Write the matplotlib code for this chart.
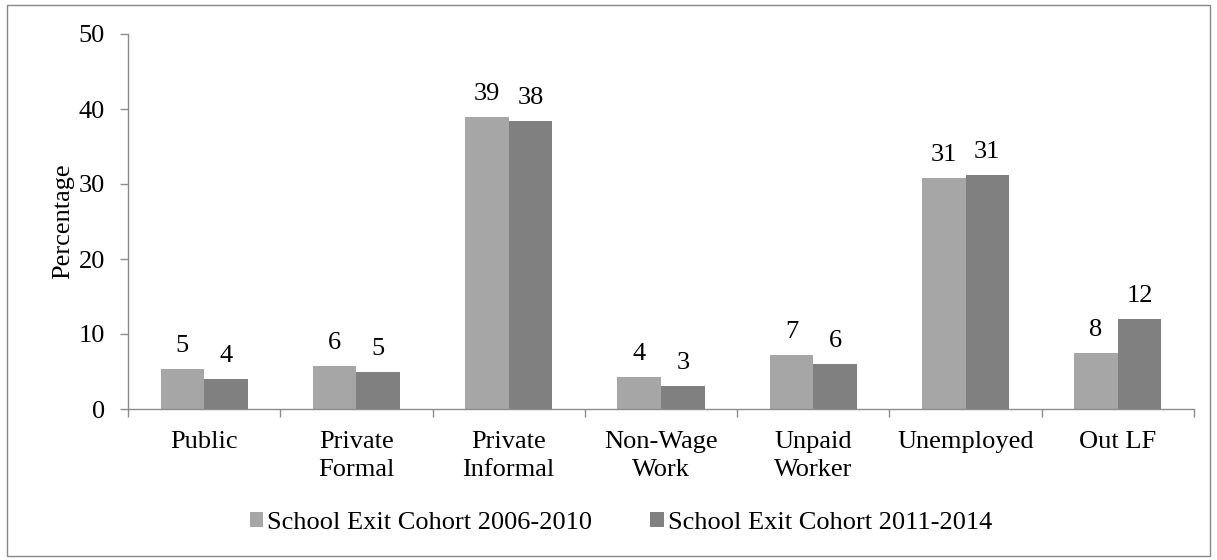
import numpy as np
import matplotlib.pyplot as plt
from matplotlib.patches import Patch, Rectangle

plt.rcParams['font.family'] = ['Liberation Serif', 'DejaVu Serif']
plt.rcParams['font.size'] = 19

categories = ['Public', 'Private\nFormal', 'Private\nInformal', 'Non-Wage\nWork',
              'Unpaid\nWorker', 'Unemployed', 'Out LF']
cohort_2006_2010 = [5.3, 5.7, 39.0, 4.3, 7.2, 30.8, 7.5]
cohort_2011_2014 = [4.0, 4.9, 38.4, 3.1, 6.0, 31.2, 12.0]
series_names = ['School Exit Cohort 2006-2010', 'School Exit Cohort 2011-2014']
colors = ['#a6a6a6', '#808080']

fig = plt.figure(figsize=(12.17, 5.6), dpi=100)
ax = fig.add_axes([128 / 1217, 1 - 409 / 560, 1066 / 1217, 375 / 560])

x = np.arange(len(categories))
w = 0.286
for k, vals in enumerate([cohort_2006_2010, cohort_2011_2014]):
    pos = x + (k - 0.5) * w
    ax.bar(pos, vals, width=w, color=colors[k], linewidth=0, zorder=2)
    for xi, v in zip(pos, vals):
        ax.annotate('%d' % round(v), (xi, v), xytext=(0, 12.2), textcoords='offset points',
                    ha='center', va='baseline', fontsize=19)

ax.set_xlim(-0.5, len(categories) - 0.5)
ax.set_ylim(0, 50)
ax.set_yticks(range(0, 51, 10))

# major ticks sit between categories, labels go on the minor ticks
ax.set_xticks(np.arange(-0.5, len(categories), 1.0))
ax.set_xticklabels([])
ax.set_xticks(x, minor=True)
ax.set_xticklabels(categories, minor=True, linespacing=1.35)
ax.tick_params(axis='x', which='minor', length=0, pad=16)
ax.tick_params(axis='x', which='major', length=7.7 * 0.72, width=1, color='#8c8c8c')
ax.tick_params(axis='y', length=7.6 * 0.72, width=1, color='#8c8c8c', pad=11)

for s in ['top', 'right']:
    ax.spines[s].set_visible(False)
for s in ['left', 'bottom']:
    ax.spines[s].set_color('#8c8c8c')
    ax.spines[s].set_linewidth(1.0)

ax.set_ylabel('Percentage')
ax.yaxis.set_label_coords((74 - 128) / 1066, 0.5)

handles = [Patch(facecolor=c, edgecolor='none') for c in colors]
fig.legend(handles, series_names, loc='center', bbox_to_anchor=(621 / 1217, 1 - 523 / 560),
           ncol=2, frameon=False, handlelength=0.5, handleheight=0.5,
           handletextpad=0.15, columnspacing=2.2, borderpad=0, fontsize=19)

# outer chart border
fig.patches.append(Rectangle((7 / 1217, 4 / 560), 1203 / 1217, 551 / 560,
                             transform=fig.transFigure, fill=False,
                             edgecolor='#868686', linewidth=1.0))

fig.savefig('out.png', dpi=100)
